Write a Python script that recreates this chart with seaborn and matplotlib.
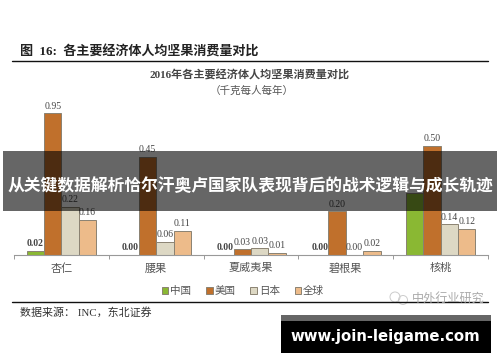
import matplotlib
matplotlib.use("Agg")
import matplotlib.pyplot as plt
import pandas as pd
import seaborn as sns
from matplotlib.patches import Circle, Rectangle

nuts = ["杏仁", "腰果", "夏威夷果", "碧根果", "核桃"]
countries = ["中国", "美国", "日本", "全球"]

# bar heights as drawn in the picture (the 0.95 bar is drawn shorter than its label says)
china = [0.02, 0.00, 0.00, 0.00, 0.285]
usa = [0.65, 0.45, 0.026, 0.20, 0.50]
japan = [0.22, 0.06, 0.03, 0.00, 0.14]
world = [0.16, 0.11, 0.01, 0.02, 0.12]

china_labels = ["0.02", "0.00", "0.00", "0.00", ""]
usa_labels = ["0.95", "0.45", "0.03", "0.20", "0.50"]
japan_labels = ["0.22", "0.06", "0.03", "0.00", "0.14"]
world_labels = ["0.16", "0.11", "0.01", "0.02", "0.12"]

colors = ["#8AB833", "#C0702C", "#DDD8C4", "#EDBB8A"]

SERIF = ["Liberation Serif", "Noto Sans CJK SC"]
GREY = "#555555"

sns.set_theme(style="white")
plt.rcParams["font.family"] = SERIF

df = pd.DataFrame(
    {
        "nut": nuts * 4,
        "country": [c for c in countries for _ in nuts],
        "value": china + usa + japan + world,
    }
)

fig = plt.figure(figsize=(5, 3.62), dpi=100)
ax = fig.add_axes([14 / 500, 107 / 362, 474 / 500, 155 / 362])
sns.barplot(
    data=df,
    x="nut",
    y="value",
    hue="country",
    order=nuts,
    hue_order=countries,
    palette=colors,
    width=0.735,
    gap=0,
    edgecolor="#8a8272",
    linewidth=0.7,
    saturation=1,
    ax=ax,
)
ax.set_xlim(-0.5, 4.5)
ax.set_ylim(0, 0.711)
ax.set_xlabel("")
ax.set_ylabel("")
ax.set_yticks([])
sns.despine(ax=ax, left=True)
ax.spines["bottom"].set_color("#999999")
ax.spines["bottom"].set_linewidth(0.8)

# ticks sit between the groups, names stay centred under them
ax.set_xticks([i - 0.5 for i in range(6)])
ax.set_xticklabels([])
ax.set_xticks(range(5), nuts, minor=True)
ax.tick_params(axis="x", which="major", length=3, width=0.7, color="#999999", bottom=True)
ax.tick_params(axis="x", which="minor", length=0, labelsize=8, labelcolor=GREY, pad=6, bottom=False)

label_sets = [china_labels, usa_labels, japan_labels, world_labels]
for container, labels, weight in zip(ax.containers, label_sets, ["bold", "normal", "normal", "normal"]):
    ax.bar_label(container, labels=labels, padding=2, fontsize=7, color="#444444", fontweight=weight)

sns.move_legend(
    ax,
    "center",
    bbox_to_anchor=(243 / 500, 71 / 362),
    bbox_transform=fig.transFigure,
    ncols=4,
    frameon=False,
    title=None,
    fontsize=7.6,
    handlelength=0.6,
    handleheight=0.6,
    handletextpad=0.2,
    columnspacing=1.4,
    labelcolor=GREY,
)

# everything else is placed in pixels of the picture, y going down
over = fig.add_axes([0, 0, 1, 1], zorder=5)
over.set_xlim(0, 500)
over.set_ylim(362, 0)
over.axis("off")
over.patch.set_alpha(0)

over.plot([12, 488], [61, 61], color="#111111", lw=1)
over.plot([12, 488], [302, 302], color="#111111", lw=1)
over.text(20, 52, "图  16:  各主要经济体人均坚果消费量对比", fontsize=9.4, fontweight="bold", color="#222222", va="center")
over.text(250, 75, "2016年各主要经济体人均坚果消费量对比", fontsize=8, fontweight="bold", color="#444444", ha="center", va="center")
over.text(252, 91, "（千克每人每年）", fontsize=7.6, color=GREY, ha="center", va="center")
over.text(20, 312, "数据来源： INC，东北证券", fontsize=7.9, color="#333333", va="center")

# watermark
over.add_patch(Circle((395, 297), 5, fill=False, ec="#cccccc", lw=0.7))
over.add_patch(Circle((403, 300), 4.5, fill=False, ec="#cccccc", lw=0.7))
over.text(412, 298, "中外行业研究", fontsize=8.7, color="#aaaaaa", va="center", family=["Noto Sans CJK SC"])

# banner across the chart
over.add_patch(Rectangle((3, 151), 494, 60, color="black", alpha=0.6, lw=0))
over.text(250, 186, "从关键数据解析恰尔汗奥卢国家队表现背后的战术逻辑与成长轨迹", fontsize=12.1, fontweight="bold",
          color="white", ha="center", va="center", family=["Noto Sans CJK SC"])

# site badge
over.add_patch(Rectangle((281, 315), 210, 6, color="#666666", lw=0))
over.add_patch(Rectangle((281, 321), 210, 32, color="black", lw=0))
over.text(385, 337, "www.join-leigame.com", fontsize=10.7, fontweight="bold", color="white", ha="center", va="center",
          family=["DejaVu Sans"])

fig.savefig("out.png", dpi=100)
